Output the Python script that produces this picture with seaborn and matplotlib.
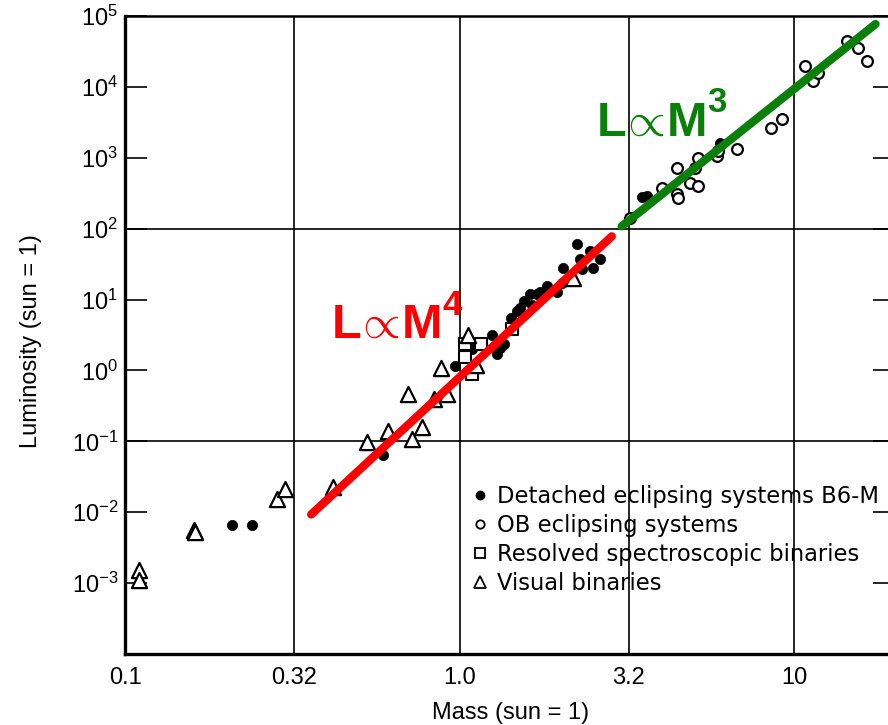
import matplotlib
matplotlib.use("Agg")
import matplotlib.pyplot as plt
from matplotlib.lines import Line2D
from matplotlib.ticker import NullLocator
import seaborn as sns

# Values (mass, luminosity in solar units)
detached_mass = [0.209, 0.24, 0.59, 0.966, 1.09, 1.25, 1.32, 1.29, 1.36, 1.42, 1.48, 1.51,
                 1.56, 1.62, 1.65, 1.70, 1.74, 1.83, 1.95, 2.02, 2.03, 2.24, 2.29, 2.32,
                 2.45, 2.5, 2.62, 3.5, 3.62, 6.0]
detached_lum = [0.0067, 0.0067, 0.065, 1.14, 1.98, 3.2, 2.05, 1.68, 2.4, 5.5, 6.8, 7.5,
                9.5, 11.8, 8.5, 12.0, 13.0, 15.3, 13.0, 17.0, 27.5, 60.0, 37.0, 27.0,
                48.0, 27.5, 37.0, 277.0, 285.0, 1600.0]

ob_mass = [3.23, 4.03, 4.46, 4.46, 4.5, 4.88, 5.15, 5.15, 5.05, 5.88, 5.9, 6.75, 8.5, 9.2,
           10.8, 11.4, 11.8, 14.4, 15.5, 16.5]
ob_lum = [141, 370, 710, 307, 270, 437, 400, 980, 710, 1050, 1250, 1330, 2630, 3500,
          19500, 12000, 15700, 44600, 35000, 23000]

resolved_mass = [1.035, 1.035, 1.16, 1.09, 1.43]
resolved_lum = [2.33, 1.57, 2.33, 0.88, 3.9]

visual_mass = [0.11, 0.11, 0.161, 0.162, 0.285, 0.30, 0.417, 0.53, 0.61, 0.72, 0.77, 0.70,
               0.84, 0.915, 0.88, 1.06, 1.12, 2.18]
visual_lum = [0.00155, 0.00112, 0.0056, 0.0052, 0.0155, 0.021, 0.023, 0.099, 0.138, 0.107,
              0.16, 0.47, 0.40, 0.46, 1.07, 3.2, 1.2, 20.0]

# hand-drawn fit lines (end points)
red_mass = [0.36, 2.85]
red_lum = [0.0093, 78.0]
green_mass = [3.05, 17.5]
green_lum = [108.0, 77000.0]

x_ticks = [0.1, 0.32, 1.0, 3.2, 10]
x_labels = ["0.1", "0.32", "1.0", "3.2", "10"]
y_ticks = [1e-3, 1e-2, 1e-1, 1e0, 1e1, 1e2, 1e3, 1e4, 1e5]
y_labels = [r"$10^{-3}$", r"$10^{-2}$", r"$10^{-1}$", r"$10^{0}$", r"$10^{1}$",
            r"$10^{2}$", r"$10^{3}$", r"$10^{4}$", r"$10^{5}$"]
y_grid = [1e-1, 1e2]

legend_labels = ["Detached eclipsing systems B6-M", "OB eclipsing systems",
                 "Resolved spectroscopic binaries", "Visual binaries"]

sns.set_style("white")
plt.rcParams["font.family"] = ["Liberation Sans", "DejaVu Sans"]
plt.rcParams["mathtext.fontset"] = "custom"
plt.rcParams["mathtext.rm"] = "Liberation Sans"
plt.rcParams["mathtext.it"] = "Liberation Sans"
plt.rcParams["mathtext.bf"] = "Liberation Sans:bold"
for key in ["text.color", "axes.labelcolor", "xtick.color", "ytick.color"]:
    plt.rcParams[key] = "black"

fig = plt.figure(figsize=(8.88, 7.25), dpi=100)
ax = fig.add_axes([0.1408, 0.0979, 0.867, 0.880])

ax.set_xscale("log")
ax.set_yscale("log")

# grid lines
for xv in x_ticks[1:]:
    ax.axvline(xv, color="black", linewidth=1.2, zorder=1)
for yv in y_grid:
    ax.axhline(yv, color="black", linewidth=1.2, zorder=1)

sns.scatterplot(x=detached_mass, y=detached_lum, marker="o", s=55, color="black",
                edgecolor="black", linewidth=0.5, ax=ax, zorder=3)
sns.scatterplot(x=ob_mass, y=ob_lum, marker="o", s=60, color="white",
                edgecolor="black", linewidth=1.6, ax=ax, zorder=3)
sns.scatterplot(x=resolved_mass, y=resolved_lum, marker="s", s=75, color="white",
                edgecolor="black", linewidth=1.5, ax=ax, zorder=3)
sns.scatterplot(x=visual_mass, y=visual_lum, marker="^", s=120, color="white",
                edgecolor="black", linewidth=1.6, ax=ax, zorder=3)

sns.lineplot(x=red_mass, y=red_lum, color="#ff0000", linewidth=6, sort=False, ax=ax, zorder=4)
sns.lineplot(x=green_mass, y=green_lum, color="#0a7f0a", linewidth=6, sort=False, ax=ax, zorder=4)

ax.set_xlim(0.1, 20)
ax.set_ylim(1e-4, 1e5)
ax.set_xticks(x_ticks)
ax.set_xticklabels(x_labels)
ax.set_yticks(y_ticks)
ax.set_yticklabels(y_labels)
ax.xaxis.set_minor_locator(NullLocator())
ax.yaxis.set_minor_locator(NullLocator())
ax.tick_params(axis="y", which="major", direction="in", length=16, width=1.2,
               left=True, right=True, labelsize=17, pad=5)
ax.tick_params(axis="x", which="major", length=0, labelsize=17, pad=9)

for side, lw in [("left", 2.4), ("bottom", 2.4), ("top", 1.8), ("right", 1.8)]:
    ax.spines[side].set_color("black")
    ax.spines[side].set_linewidth(lw)

ax.set_xlabel("Mass (sun = 1)", fontsize=17)
ax.set_ylabel("Luminosity (sun = 1)", fontsize=17)
ax.xaxis.set_label_coords(0.501, -0.075)
ax.yaxis.set_label_coords(-0.108, 0.49)

# legend, as printed in the original
handles = [
    Line2D([], [], ls="", marker="o", ms=6, mfc="black", mec="black"),
    Line2D([], [], ls="", marker="o", ms=6, mfc="white", mec="black", mew=1.3),
    Line2D([], [], ls="", marker="s", ms=7, mfc="white", mec="black", mew=1.3),
    Line2D([], [], ls="", marker="^", ms=8, mfc="white", mec="black", mew=1.3),
]
ax.legend(handles, legend_labels, loc="upper left", bbox_to_anchor=(0.452, 0.265),
          frameon=False, prop={"family": "DejaVu Sans", "size": 16.3},
          handlelength=0.6, handletextpad=0.45, labelspacing=0.27,
          borderpad=0, borderaxespad=0)


# power-law labels: bold L and M around a thin proportional sign, bold exponent
def power_label(x, y, power, color):
    t = ax.text(x, y, r"$\mathbf{L}\!\propto\!\mathbf{M}$", transform=ax.transAxes,
                color=color, fontsize=35, ha="left", va="baseline", zorder=5)
    ax.annotate(power, xy=(1.0, 0.0), xycoords=t, xytext=(1, 24),
                textcoords="offset points", color=color, fontsize=25,
                fontweight="bold", ha="left", va="baseline")


power_label(0.268, 0.495, "4", "#ff0000")
power_label(0.612, 0.813, "3", "#0a7f0a")

fig.savefig("out.png", dpi=100)
